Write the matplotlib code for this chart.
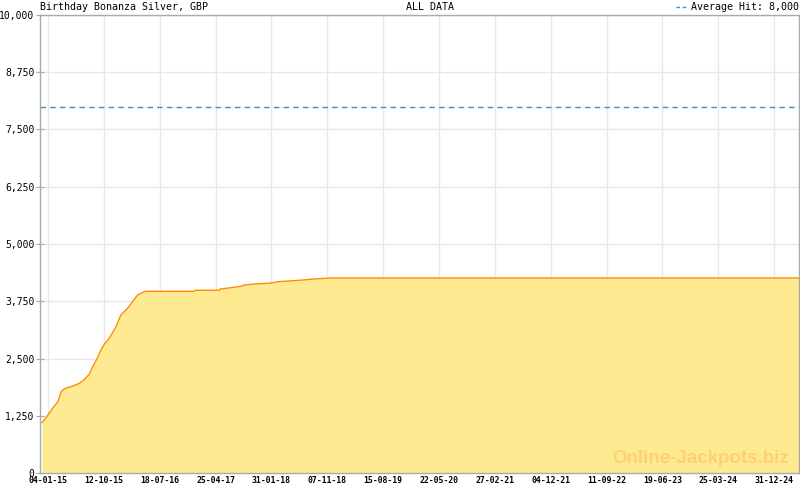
import numpy as np
import pandas as pd
import matplotlib
matplotlib.use("Agg")
import matplotlib.pyplot as plt
import matplotlib.dates as mdates
from matplotlib.ticker import FuncFormatter

# jackpot level over time
dates = ["2014-12-05", "2015-01-04", "2015-01-29", "2015-02-23", "2015-03-11",
         "2015-03-29", "2015-04-30", "2015-06-11", "2015-07-07", "2015-07-31",
         "2015-08-17", "2015-09-11", "2015-09-27", "2015-10-15", "2015-11-08",
         "2015-12-12", "2016-01-05", "2016-02-08", "2016-03-04", "2016-03-29",
         "2016-04-18", "2016-05-08", "2017-01-09", "2017-01-13", "2017-05-15",
         "2017-05-18", "2017-06-17", "2017-08-06", "2017-08-31", "2017-09-15",
         "2017-11-09", "2018-02-01", "2018-03-03", "2018-04-27", "2018-07-09",
         "2018-09-02", "2018-11-29", "2025-05-05"]
values = [1100, 1266, 1426, 1557, 1775,
          1841, 1884, 1958, 2045, 2162,
          2322, 2526, 2686, 2817, 2941,
          3194, 3450, 3596, 3740, 3886,
          3930, 3967, 3967, 3989, 3989,
          4017, 4032, 4061, 4075, 4105,
          4127, 4148, 4177, 4192, 4214,
          4236, 4258, 4258]
average_hit = 8000

tick_labels = ["04-01-15", "12-10-15", "18-07-16", "25-04-17", "31-01-18",
               "07-11-18", "15-08-19", "22-05-20", "27-02-21", "04-12-21",
               "11-09-22", "19-06-23", "25-03-24", "31-12-24"]
y_ticks = [0, 1250, 2500, 3750, 5000, 6250, 7500, 8750, 10000]

x = pd.to_datetime(dates)
xt = pd.to_datetime(tick_labels, format="%d-%m-%y")

mono = "DejaVu Sans Mono"
fig = plt.figure(figsize=(8, 4.9), dpi=100)
ax = fig.add_axes([40 / 800, 1 - 473 / 490, 759 / 800, 458 / 490])

ax.fill_between(x, values, 0, color="#feea90", lw=0, zorder=2)
ax.plot(x, values, color="#ff8c00", lw=1.0, zorder=3)
ax.axhline(average_hit, color="#3f8fbf", lw=1, ls=(0, (4, 3)), zorder=4)

ax.set_xlim(pd.Timestamp("2014-12-05"), pd.Timestamp("2025-05-05"))
ax.set_ylim(0, 10000)

ax.set_xticks(xt)
ax.set_xticklabels(tick_labels, fontfamily=mono, fontsize=5.9, fontweight="bold")
xn = mdates.date2num(xt)
step = (xn[1] - xn[0]) / 7
minors = np.arange(xn[0] - step * 0.999, mdates.date2num(pd.Timestamp("2025-05-05")), step)
ax.set_xticks(minors, minor=True)

ax.set_yticks(y_ticks)
ax.yaxis.set_major_formatter(FuncFormatter(lambda v, p: f"{int(v):,}"))
for lab in ax.get_yticklabels():
    lab.set_fontfamily(mono)
    lab.set_fontsize(7.0)

ax.tick_params(axis="x", which="major", direction="in", length=6, color="#aaaaaa", pad=2)
ax.tick_params(axis="x", which="minor", direction="in", length=3, color="#aaaaaa")
ax.tick_params(axis="y", direction="inout", length=6, color="#aaaaaa", pad=1)

ax.grid(True, which="major", color="#e8e8e8", lw=1, zorder=0)
ax.set_axisbelow(True)
for s in ax.spines.values():
    s.set_color("#aaaaaa")
    s.set_linewidth(1)
    s.set_zorder(5)

fig.text(40 / 800, 1 - 7.5 / 490, "Birthday Bonanza Silver, GBP", fontfamily=mono,
         fontsize=7.2, va="center", ha="left")
fig.text(406 / 800, 1 - 7.5 / 490, "ALL DATA", fontfamily=mono, fontsize=7.2,
         va="center", ha="left")
fig.text(799 / 800, 1 - 7.5 / 490, "Average Hit: 8,000", fontfamily=mono,
         fontsize=7.2, va="center", ha="right")
fig.add_artist(plt.Line2D([676 / 800, 688 / 800], [1 - 7.5 / 490, 1 - 7.5 / 490],
                          color="#3f8fbf", lw=1, ls=(0, (2.5, 2))))

ax.text(0.987, 0.022, "Online-Jackpots.biz", transform=ax.transAxes, ha="right",
        va="baseline", fontfamily="Liberation Sans", fontweight="bold",
        fontsize=13.5, color="#ffd074", zorder=4)

fig.savefig("out.png", dpi=100)
